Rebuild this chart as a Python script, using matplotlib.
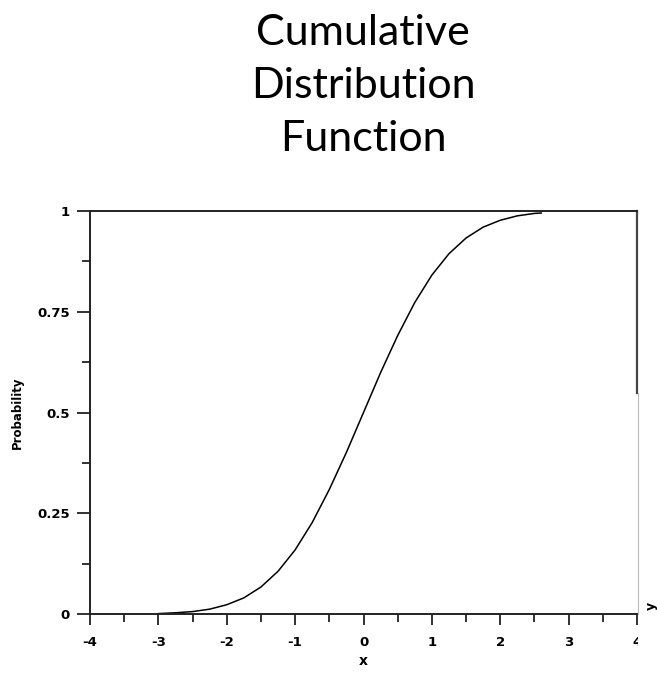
import matplotlib
matplotlib.use('Agg')
import matplotlib.pyplot as plt
from matplotlib.ticker import MultipleLocator
from matplotlib.patches import Rectangle

# values
x_vals = [-3.0, -2.75, -2.5, -2.25, -2.0, -1.75, -1.5, -1.25, -1.0, -0.75, -0.5, -0.25,
          0.0, 0.25, 0.5, 0.75, 1.0, 1.25, 1.5, 1.75, 2.0, 2.25, 2.5, 2.6]
p_vals = [0.001, 0.003, 0.006, 0.012, 0.023, 0.040, 0.067, 0.106, 0.159, 0.227, 0.309, 0.401,
          0.500, 0.599, 0.691, 0.773, 0.841, 0.894, 0.933, 0.960, 0.977, 0.988, 0.994, 0.995]

x_ticks = [-4, -3, -2, -1, 0, 1, 2, 3, 4]
x_ticklabels = ['-4', '-3', '-2', '-1', '0', '1', '2', '3', '4']
y_ticks = [0, 0.25, 0.5, 0.75, 1]
y_ticklabels = ['0', '0.25', '0.5', '0.75', '1']

W, H = 657, 678
fig = plt.figure(figsize=(W/100, H/100), dpi=100)
ax = fig.add_axes([90/W, 1 - 614/H, (637 - 90)/W, (614 - 211)/H])

ax.plot(x_vals, p_vals, color='black', lw=1.1)
ax.set_xlim(-4, 4)
ax.set_ylim(0, 1)

ax.set_xticks(x_ticks)
ax.set_xticklabels(x_ticklabels)
ax.set_yticks(y_ticks)
ax.set_yticklabels(y_ticklabels)
ax.xaxis.set_minor_locator(MultipleLocator(0.5))
ax.yaxis.set_minor_locator(MultipleLocator(0.125))
ax.tick_params(which='both', direction='out', width=1.3, color='#222222')
ax.tick_params(axis='y', which='major', length=9.5, pad=5)
ax.tick_params(axis='y', which='minor', length=5.5)
ax.tick_params(axis='x', which='major', length=8, pad=8)
ax.tick_params(axis='x', which='minor', length=5.5)
for lab in ax.get_xticklabels() + ax.get_yticklabels():
    lab.set_fontsize(9.5)
    lab.set_fontweight('bold')

for s in ax.spines.values():
    s.set_linewidth(1.4)
    s.set_color('#222222')
ax.spines['right'].set_visible(False)
ax.axvline(4, ymin=(614 - 393)/(614 - 211), ymax=1, color='#444444', lw=1.6, clip_on=False)

ax.set_xlabel('x', fontsize=10, fontweight='bold')
ax.xaxis.set_label_coords(0.5, -40/403)
ax.set_ylabel('Probability', fontsize=8.5, fontweight='bold')
ax.yaxis.set_label_coords(-66/547, 0.5)

# the source image is cut off at the lower right
fig.patches.append(Rectangle((637.5/W, 0), 1 - 637.5/W, 1 - 393/H, transform=fig.transFigure,
                             facecolor='white', edgecolor='none', zorder=10))
fig.add_artist(plt.Line2D([637.5/W, 637.5/W], [1 - 614/H, 1 - 393/H], transform=fig.transFigure,
                          color='#bbbbbb', lw=0.8, zorder=11))
fig.text(651/W, 1 - 606/H, 'y', fontsize=9, fontweight='bold', rotation=90,
         ha='center', va='center', zorder=12)

fig.text(363/W, 1 - 86/H, 'Cumulative\nDistribution\nFunction', fontsize=31,
         family=['Lato', 'DejaVu Sans'], ha='center', va='center', linespacing=1.48)

fig.savefig('out.png', dpi=100)
